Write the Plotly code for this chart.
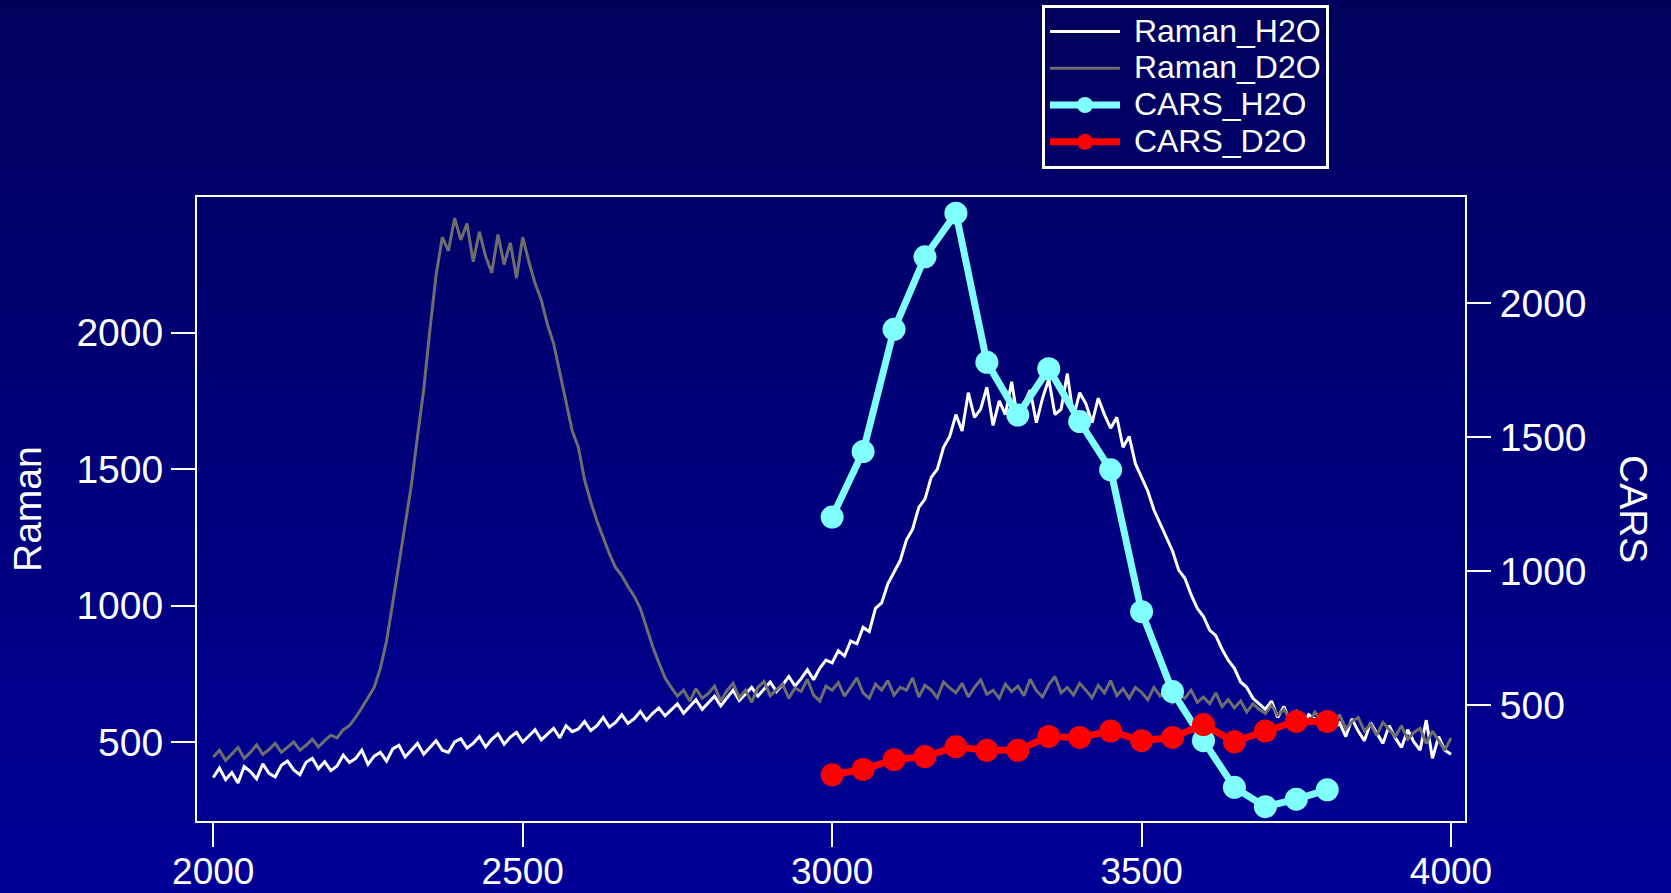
import plotly.graph_objects as go

# ---------------- data ----------------
wavenumber = list(range(2000, 4001, 10))

raman_h2o = [
    370, 405, 362, 388, 350, 410, 392, 365, 420, 385,
    372, 415, 430, 398, 380, 426, 440, 402, 428, 395,
    412, 452, 425, 440, 470, 418, 448, 462, 430, 475,
    488, 445, 470, 495, 455, 480, 505, 470, 462, 500,
    512, 478, 495, 520, 482, 510, 530, 492, 518, 535,
    500, 522, 545, 508, 530, 550, 515, 560, 538, 548,
    575, 542, 560, 590, 555, 572, 600, 568, 585, 612,
    580, 605, 625, 596, 618, 640, 605, 632, 655, 620,
    645, 668, 632, 660, 690, 652, 675, 700, 668, 692,
    720, 685, 710, 740, 705, 732, 765, 728, 770, 800,
    790, 835, 815, 870, 860, 920, 905, 990, 1010, 1080,
    1120, 1165, 1240, 1280, 1360, 1390, 1470, 1500, 1580, 1620,
    1700, 1640, 1780, 1690, 1720, 1800, 1660, 1750, 1700, 1820,
    1680, 1740, 1790, 1670, 1760, 1830, 1700, 1720, 1850, 1690,
    1780, 1740, 1670, 1760, 1700, 1650, 1690, 1580, 1620, 1520,
    1470, 1420, 1350, 1300, 1250, 1200, 1130, 1100, 1040, 990,
    960, 910, 890, 840, 800, 770, 720, 700, 660, 640,
    620, 650, 590, 630, 575, 610, 560, 600, 585, 545,
    600, 550, 570, 520, 585, 540, 505, 570, 530, 495,
    560, 515, 480, 545, 500, 470, 580, 440, 520, 470,
    455,
]

raman_d2o = [
    445, 470, 432, 458, 480, 440, 462, 490, 455, 472,
    495, 462, 480, 500, 470, 488, 510, 482, 505, 525,
    515, 545, 560, 590, 625, 660, 700, 770, 870, 1010,
    1150, 1290, 1440, 1620, 1790, 2010, 2210, 2350, 2300, 2420,
    2340, 2400, 2260, 2370, 2280, 2220, 2360, 2250, 2330, 2200,
    2350, 2260, 2180, 2120, 2030, 1960, 1850, 1740, 1640, 1580,
    1460, 1380, 1310, 1250, 1190, 1140, 1110, 1070, 1035, 990,
    920, 850, 790, 735, 700, 668, 690, 650, 695, 660,
    678, 705, 650, 688, 715, 662, 690, 645, 700, 722,
    670, 692, 712, 660, 698, 685, 730, 672, 650, 705,
    690, 718, 668, 700, 735, 680, 660, 712, 690, 725,
    672, 700, 690, 735, 665, 708, 690, 662, 720, 698,
    680, 715, 665, 700, 728, 675, 690, 660, 712, 685,
    705, 670, 730, 688, 665, 710, 740, 680, 700, 672,
    715, 690, 662, 708, 680, 725, 670, 695, 660, 700,
    682, 655, 700, 668, 690, 640, 675, 660, 690, 645,
    665, 640, 680, 630, 655, 625, 650, 610, 640, 620,
    605, 635, 598, 620, 585, 615, 595, 570, 610, 580,
    590, 560, 600, 548, 575, 590, 540, 565, 525, 572,
    545, 520, 560, 510, 535, 550, 495, 540, 505, 470,
    515,
]

cars_x = [3000, 3050, 3100, 3150, 3200, 3250, 3300, 3350, 3400,
          3450, 3500, 3550, 3600, 3650, 3700, 3750, 3800]
cars_h2o = [1202, 1446, 1902, 2172, 2335, 1779, 1582, 1755, 1558,
            1378, 849, 551, 368, 194, 122, 150, 185]
cars_d2o = [241, 261, 297, 309, 345, 332, 332, 384, 380,
            404, 368, 380, 428, 364, 404, 440, 440]

series_names = ["Raman_H2O", "Raman_D2O", "CARS_H2O", "CARS_D2O"]
x_ticks = [2000, 2500, 3000, 3500, 4000]
raman_ticks = [500, 1000, 1500, 2000]
cars_ticks = [500, 1000, 1500, 2000]

# ---------------- figure ----------------
W, H = 1671, 893
ML, MR, MT, MB = 197, 206, 197, 72
FONT = "Liberation Sans, Arial, Helvetica, sans-serif"


def legend_label(s):
    return f'<span style="font-size:32px">&nbsp;{s}</span>'


fig = go.Figure()
fig.add_trace(go.Scatter(x=wavenumber, y=raman_h2o, name=legend_label(series_names[0]),
                         mode="lines", line=dict(color="#FFFFFF", width=3), yaxis="y"))
fig.add_trace(go.Scatter(x=wavenumber, y=raman_d2o, name=legend_label(series_names[1]),
                         mode="lines", line=dict(color="#6E6E6E", width=3), yaxis="y"))
fig.add_trace(go.Scatter(x=cars_x, y=cars_h2o, name=legend_label(series_names[2]),
                         mode="lines+markers", line=dict(color="#7FFFFF", width=7),
                         marker=dict(color="#7FFFFF", size=23), yaxis="y2"))
fig.add_trace(go.Scatter(x=cars_x, y=cars_d2o, name=legend_label(series_names[3]),
                         mode="lines+markers", line=dict(color="#FF0000", width=7),
                         marker=dict(color="#FF0000", size=23), yaxis="y2"))

# vertical background gradient (decoration)
shapes = []
nb = 90
pw = W - ML - MR
ph = H - MT - MB
for i in range(nb):
    y0px = H * i / nb
    y1px = H * (i + 1) / nb + 0.5
    t = (i + 0.5) / nb
    b = round(92 + (152 - 92) * t)
    col = f"rgb(0,0,{b})"
    shapes.append(dict(type="rect", xref="paper", yref="paper", layer="below",
                       x0=-ML / pw - 0.01, x1=1 + MR / pw + 0.01,
                       y0=(H - MB - y1px) / ph, y1=(H - MB - y0px) / ph,
                       fillcolor=col, line=dict(width=0)))

axis_common = dict(showgrid=False, zeroline=False, showline=True, linecolor="white",
                   linewidth=2, ticks="outside", ticklen=24, tickwidth=2,
                   tickcolor="white")
tick_font = dict(family=FONT, size=39, color="white")

fig.update_layout(
    width=W, height=H,
    margin=dict(l=ML, r=MR, t=MT, b=MB, autoexpand=False),
    paper_bgcolor="rgb(0,0,120)",
    plot_bgcolor="rgba(0,0,0,0)",
    shapes=shapes,
    font=dict(family=FONT, color="white"),
    xaxis=dict(range=[1973.7, 4022.6], tickvals=x_ticks, mirror=True,
               ticklabelstandoff=-7, tickfont=dict(family=FONT, size=37, color="white"),
               **axis_common),
    yaxis=dict(range=[210.5, 2497.3], tickvals=raman_ticks, mirror=True,
               ticklabelstandoff=0, tickfont=tick_font, **axis_common),
    yaxis2=dict(range=[68.6, 2395.2], tickvals=cars_ticks, overlaying="y", side="right",
                ticklabelstandoff=1, tickfont=tick_font, **axis_common),
    showlegend=True,
    legend=dict(x=(1042 - ML) / pw, y=(H - MB - 5) / ph, xanchor="left", yanchor="top",
                bgcolor="rgba(0,0,0,0)", bordercolor="white", borderwidth=3,
                font=dict(family=FONT, size=26, color="white"),
                itemwidth=70, tracegroupgap=0),
    annotations=[
        dict(text="Raman", xref="paper", yref="paper", x=(27 - ML) / pw, y=0.5,
             xanchor="center", yanchor="middle",
             textangle=-90, showarrow=False, font=dict(family=FONT, size=39, color="white")),
        dict(text="CARS", xref="paper", yref="paper", x=(1634 - ML) / pw, y=0.5,
             xanchor="center", yanchor="middle",
             textangle=90, showarrow=False, font=dict(family=FONT, size=39, color="white")),
    ],
)

fig.write_html("out.html", config={"displayModeBar": False},
               post_script="document.body.style.margin='0';")
